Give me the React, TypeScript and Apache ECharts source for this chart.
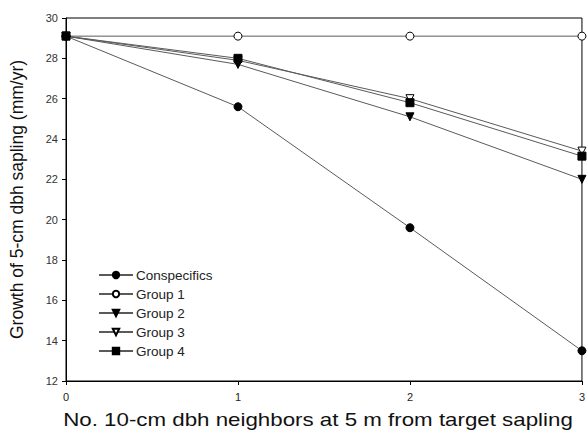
import React, { useEffect, useRef } from "react";
import * as echarts from "echarts";

const xValues = [0, 1, 2, 3];
const conspecifics = [29.1, 25.6, 19.6, 13.5];
const group1 = [29.1, 29.1, 29.1, 29.1];
const group2 = [29.1, 27.7, 25.1, 22.0];
const group3 = [29.1, 27.9, 26.0, 23.4];
const group4 = [29.1, 28.0, 25.8, 23.15];
const seriesNames = ["Conspecifics", "Group 1", "Group 2", "Group 3", "Group 4"];
const xTitle = "No. 10-cm dbh neighbors at 5 m from target sapling";
const yTitle = "Growth of 5-cm dbh sapling (mm/yr)";

const FONT = "Liberation Sans, Arial, sans-serif";

export default function App() {
  const ref = useRef<HTMLDivElement>(null);
  useEffect(() => {
    if (!ref.current) return;
    const chart = echarts.init(ref.current, null, { renderer: "svg" });
    const mk = (
      name: string,
      data: number[],
      symbol: string,
      fill: string,
      size: number
    ) => ({
      name,
      type: "line",
      data: data.map((v, i) => [xValues[i], v]),
      symbol,
      symbolSize: size,
      showAllSymbol: true,
      lineStyle: { color: "#5a5a5a", width: 1 },
      itemStyle: { color: fill, borderColor: "#000", borderWidth: 1 },
      z: 3,
    });
    chart.setOption({
      animation: false,
      backgroundColor: "#fff",
      grid: {
        left: 62,
        right: 4,
        top: 18,
        bottom: 54,
        show: true,
        borderColor: "#000",
        borderWidth: 1,
        backgroundColor: "transparent",
      },
      legend: {
        orient: "vertical",
        left: 93,
        top: 263,
        itemWidth: 34,
        itemHeight: 8,
        itemGap: 5,
        data: seriesNames,
        textStyle: { fontFamily: FONT, fontSize: 13.5, color: "#222", padding: [0, 0, 0, -2] },
      },
      graphic: [
        {
          type: "text",
          x: 318,
          y: 420,
          scaleX: 1.24,
          style: {
            text: xTitle,
            font: "18px " + FONT,
            fill: "#111",
            textAlign: "center",
            textVerticalAlign: "middle",
          },
        },
      ],
      xAxis: {
        type: "value",
        min: 0,
        max: 3,
        interval: 1,
        axisLine: { lineStyle: { color: "#000", width: 1 } },
        axisTick: { show: true, length: 4, lineStyle: { color: "#000" } },
        axisLabel: { fontFamily: FONT, fontSize: 11, color: "#222", margin: 10 },
        splitLine: { show: false },
      },
      yAxis: {
        type: "value",
        min: 12,
        max: 30,
        interval: 2,
        name: yTitle,
        nameLocation: "middle",
        nameGap: 40,
        nameTextStyle: { fontFamily: FONT, fontSize: 17.5, color: "#111" },
        axisLine: { lineStyle: { color: "#000", width: 1 } },
        axisTick: { show: true, length: 4, lineStyle: { color: "#000" } },
        axisLabel: { fontFamily: FONT, fontSize: 11, color: "#333", margin: 8 },
        splitLine: { show: false },
      },
      series: [
        mk(seriesNames[0], conspecifics, "circle", "#000", 8),
        mk(seriesNames[1], group1, "circle", "#fff", 8),
        mk(seriesNames[2], group2, "path://M0,0 L10,0 L5,9 Z", "#000", 8),
        mk(seriesNames[3], group3, "path://M0,0 L10,0 L5,9 Z", "#fff", 8),
        mk(seriesNames[4], group4, "rect", "#000", 8),
      ],
    });
    return () => chart.dispose();
  }, []);
  return (
    <div
      ref={ref}
      style={{ position: "fixed", left: 0, top: 0, width: 588, height: 435 }}
    />
  );
}
